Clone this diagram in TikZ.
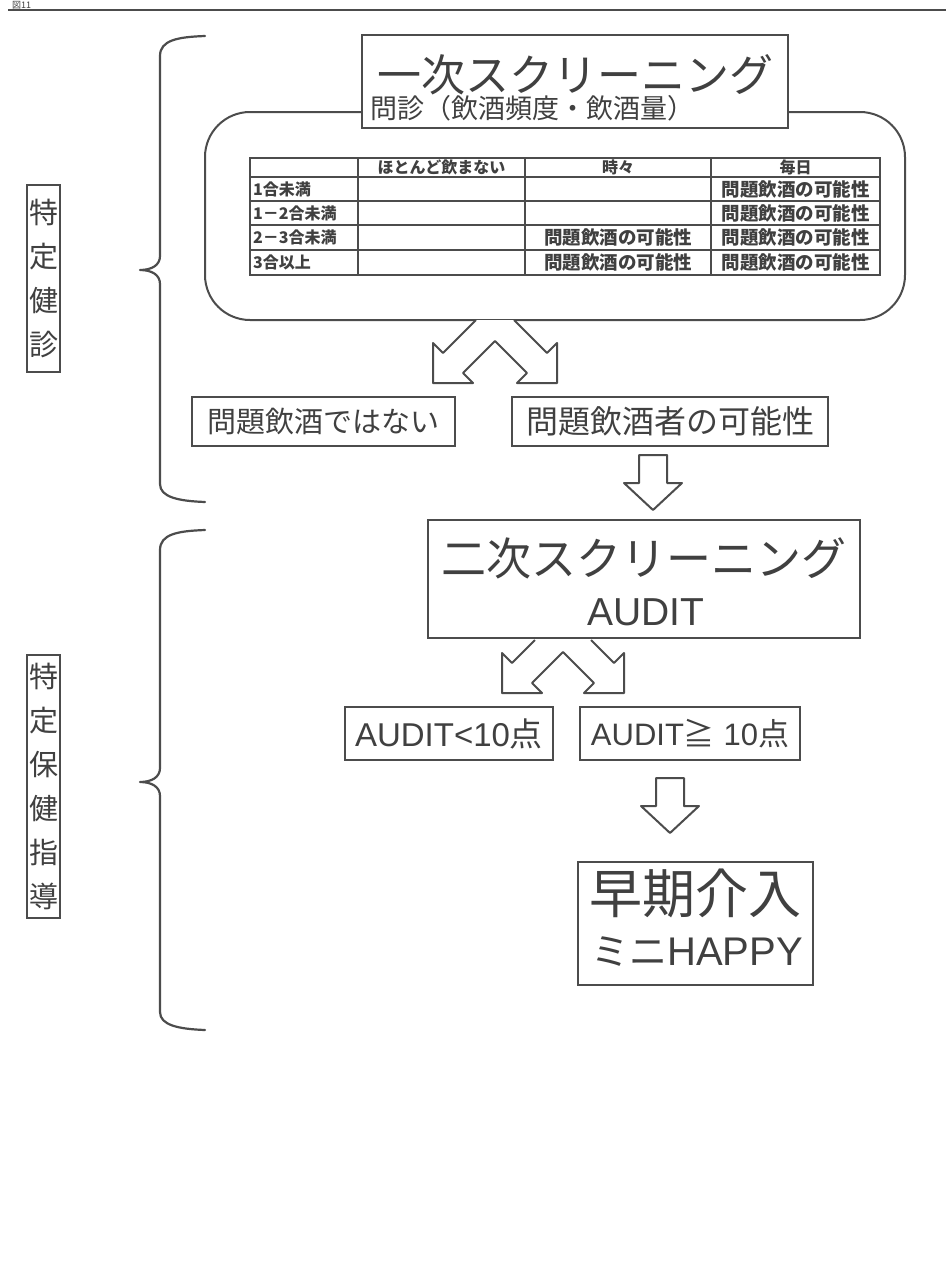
\documentclass[tikz,border=0pt]{standalone}
\usepackage{fontspec}
\setmainfont{Liberation Sans}
\newfontfamily\jp{Noto Sans CJK JP}
\definecolor{ink}{gray}{0.3}
\definecolor{txtc}{gray}{0.25}
\tikzset{
  ln/.style={draw=ink, line width=2.2pt, line join=round, line cap=round},
  boxn/.style={draw=ink, line width=2pt, fill=white, inner sep=0pt, text=txtc},
  txt/.style={inner sep=0pt, text=txtc},
  blk/.style={draw=ink, line width=2pt, fill=white, line join=round},
  cell/.style={inner sep=0pt, text=txtc, font=\jp\bfseries\fontsize{16}{16}\selectfont},
  cellw/.style={inner sep=0pt, text=txtc, font=\jp\bfseries\fontsize{18.5}{18.5}\selectfont}
}
\begin{document}
\begin{tikzpicture}[x=1pt,y=-1pt]
\useasboundingbox[fill=white] (0,0) rectangle (946,1272);
% header
\node[txt, anchor=base west, font=\jp\fontsize{9}{9}\selectfont] (fig) at (12,8.2) {図11};
\draw[draw=ink, line width=1.2pt] (8,10) coordinate (hl) -- (946,10) coordinate (hr);

% braces
\draw[ln] (205,36) .. controls (178,37) and (160,40) .. (160,56) -- (160,256)
  .. controls (160,265) and (152,270) .. (140,270)
  .. controls (152,270) and (160,275) .. (160,284) -- (160,484)
  .. controls (160,497) and (178,501) .. (205,502);
\draw[ln] (205,530) .. controls (178,531) and (160,534) .. (160,550) -- (160,768)
  .. controls (160,777) and (152,782) .. (140,782)
  .. controls (152,782) and (160,787) .. (160,796) -- (160,1012)
  .. controls (160,1025) and (178,1029) .. (205,1030);

% left vertical labels
\node[boxn, minimum width=33, minimum height=187, align=center,
  font=\jp\fontsize{29}{44}\selectfont] (kenshin) at (43.5,278.5) {特\\定\\健\\診};
\node[boxn, minimum width=33, minimum height=263, align=center,
  font=\jp\fontsize{29}{44}\selectfont] (hoken) at (43.5,786.5) {特\\定\\保\\健\\指\\導};

% rounded box with table
\draw[ln, line width=2pt, rounded corners=45] (205,112) rectangle (905,320);
\node[boxn, minimum width=426, minimum height=93] (first) at (575,81.5) {};
\node[txt, font=\jp\fontsize{44}{44}\selectfont] (firstt) at (575,75) {一次スクリーニング};
\node[txt, anchor=west, font=\jp\fontsize{27}{27}\selectfont] (firsts) at (370,108) {問診（飲酒頻度・飲酒量）};

% table
\draw[draw=ink, line width=1.6pt] (250,158) rectangle (880,275);
\foreach \yy in {177,201,225,250} \draw[draw=ink, line width=1.4pt] (250,\yy) -- (880,\yy);
\foreach \xx in {358,525,711} \draw[draw=ink, line width=1.4pt] (\xx,158) -- (\xx,275);
\node[cell] (h1) at (441.5,167.5) {ほとんど飲まない};
\node[cell] (h2) at (618,167.5) {時々};
\node[cell] (h3) at (795.5,167.5) {毎日};
\node[cell, anchor=west] (r1) at (253,189) {1合未満};
\node[cell, anchor=west] (r2) at (253,213) {1－2合未満};
\node[cell, anchor=west] (r3) at (253,237.5) {2－3合未満};
\node[cell, anchor=west] (r4) at (253,262.5) {3合以上};
\node[cellw] (c14) at (795.5,189) {問題飲酒の可能性};
\node[cellw] (c24) at (795.5,213) {問題飲酒の可能性};
\node[cellw] (c33) at (618,237.5) {問題飲酒の可能性};
\node[cellw] (c34) at (795.5,237.5) {問題飲酒の可能性};
\node[cellw] (c43) at (618,262.5) {問題飲酒の可能性};
\node[cellw] (c44) at (795.5,262.5) {問題飲酒の可能性};

% split arrow 1
\draw[blk] (476,320) -- (443,353) -- (433,343) -- (433,383) -- (473,383) -- (463,373)
  -- (495,341) -- (527,373) -- (517,383) -- (557,383) -- (557,343) -- (547,353)
  -- (514,320);

% result boxes
\node[boxn, minimum width=263, minimum height=49, font=\jp\fontsize{29}{29}\selectfont] (nonprob) at (323.5,421.5) {問題飲酒ではない};
\node[boxn, minimum width=316, minimum height=49, font=\jp\fontsize{32}{32}\selectfont] (prob) at (670,421.5) {問題飲酒者の可能性};

% down arrow 1
\draw[blk] (639,455) -- (667,455) -- (667,483) -- (682,483) -- (653,510) -- (624,483) -- (639,483) -- cycle;

% second screening
\node[boxn, minimum width=432, minimum height=118] (second) at (644,579) {};
\node[txt, font=\jp\fontsize{45}{45}\selectfont] (secondt) at (644,558) {二次スクリーニング};
\node[txt, font=\fontsize{39}{39}\selectfont] (seconds) at (646,612) {AUDIT};

% split arrow 2
\draw[blk] (535,640) -- (512,663) -- (502,653) -- (502,693) -- (542,693) -- (532,683)
  -- (563,652) -- (594,683) -- (584,693) -- (624,693) -- (624,653) -- (614,663)
  -- (591,640);

% AUDIT boxes
\node[boxn, minimum width=208, minimum height=53, font=\fontsize{33}{33}\selectfont] (lo) at (449,733.5) {AUDIT<10{\jp 点}};
\node[boxn, minimum width=220, minimum height=53, font=\fontsize{31}{31}\selectfont] (hi) at (690,733.5) {AUDIT{\jp ≧} 10{\jp 点}};

% down arrow 2
\draw[blk] (656,778) -- (684,778) -- (684,806) -- (699,806) -- (670,833) -- (641,806) -- (656,806) -- cycle;

% early intervention
\node[boxn, minimum width=235, minimum height=123] (early) at (695.5,923.5) {};
\node[txt, font=\jp\fontsize{53}{53}\selectfont] (earlyt) at (695.5,893) {早期介入};
\node[txt, font=\fontsize{40}{40}\selectfont] (earlys) at (697,952) {{\jp\fontsize{38}{38}\selectfont ミニ}HAPPY};
\end{tikzpicture}
\end{document}
